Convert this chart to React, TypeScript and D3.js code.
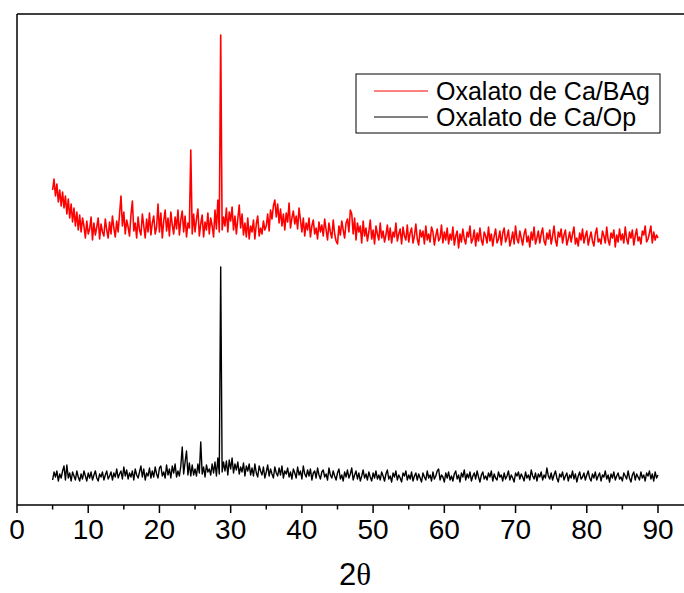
import React from "react";
import * as d3 from "d3";

// Diffraction patterns, sampled every 0.2° from 5° to 90° (2θ), stacked with an offset.
const twoThetaStart = 5;
const twoThetaStep = 0.2;

// Oxalato de Ca/BAg (offset trace)
const bagIntensity = [
  312, 323, 306, 318, 300, 312, 296, 310, 294, 306,
  288, 303, 284, 298, 280, 294, 276, 290, 272, 287,
  270, 284, 276, 264, 281, 268, 273, 285, 262, 279,
  267, 275, 284, 263, 278, 270, 266, 283, 272, 264,
  280, 268, 286, 274, 265, 281, 270, 288, 306, 276,
  290, 268, 282, 275, 266, 287, 301, 271, 279, 264,
  285, 272, 267, 288, 276, 264, 283, 270, 289, 267,
  279, 286, 268, 275, 298, 270, 289, 264, 281, 292,
  271, 284, 266, 290, 277, 268, 285, 273, 292, 267,
  282, 291, 270, 286, 265, 279, 274, 352, 268, 288,
  270, 283, 293, 266, 278, 287, 265, 280, 272, 289,
  268, 284, 276, 265, 292, 273, 302, 270, 467, 272,
  285, 276, 294, 270, 290, 281, 295, 272, 286, 268,
  283, 297, 274, 288, 267, 279, 265, 284, 263, 276,
  270, 282, 263, 278, 286, 266, 274, 268, 281, 272,
  276, 288, 271, 292, 283, 296, 302, 285, 298, 279,
  293, 276, 288, 272, 289, 280, 299, 274, 284, 291,
  278, 286, 273, 294, 282, 270, 284, 266, 279, 272,
  284, 265, 276, 282, 268, 274, 263, 280, 270, 277,
  266, 283, 272, 262, 279, 270, 264, 282, 268, 261,
  258, 276, 267, 281, 272, 264, 279, 283, 270, 292,
  288, 268, 284, 262, 279, 270, 276, 259, 281, 266,
  274, 261, 270, 282, 263, 272, 258, 276, 268, 262,
  279, 264, 271, 260, 267, 277, 262, 274, 259, 270,
  265, 279, 261, 268, 273, 258, 275, 266, 262, 277,
  260, 269, 274, 259, 266, 278, 263, 257, 272, 265,
  271, 258, 276, 262, 268, 260, 275, 270, 257, 266,
  273, 261, 264, 277, 259, 270, 262, 274, 258, 268,
  262, 275, 257, 266, 271, 254, 268, 260, 273, 263,
  258, 270, 265, 276, 259, 263, 272, 256, 269, 261,
  274, 262, 257, 270, 266, 259, 275, 261, 268, 256,
  266, 273, 259, 263, 271, 257, 269, 274, 260, 265,
  272, 256, 262, 270, 258, 276, 263, 259, 271, 264,
  257, 268, 273, 260, 266, 255, 270, 262, 275, 258,
  264, 271, 259, 268, 274, 261, 257, 269, 263, 272,
  258, 266, 276, 262, 256, 270, 265, 273, 259, 267,
  272, 257, 263, 270, 260, 268, 275, 258, 264, 256,
  269, 262, 273, 259, 266, 271, 257, 264, 270, 261,
  256, 268, 274, 260, 263, 258, 271, 266, 259, 275,
  262, 257, 269, 264, 272, 255, 267, 260, 273, 262,
  268, 259, 275, 263, 258, 270, 264, 272, 257, 266,
  273, 261, 265, 258, 271, 267, 276, 260, 263, 269,
  276, 259, 270, 262, 267, 264,
];

// Oxalato de Ca/Op
const opIntensity = [
  22, 30, 25, 31, 21, 28, 24, 31, 36, 22,
  37, 24, 29, 21, 30, 26, 22, 31, 25, 21,
  28, 23, 31, 26, 21, 29, 24, 30, 22, 27,
  31, 24, 21, 28, 25, 30, 22, 27, 31, 23,
  26, 30, 22, 29, 25, 33, 24, 28, 31, 23,
  35, 26, 32, 23, 29, 25, 31, 22, 33, 27,
  24, 30, 36, 25, 33, 22, 29, 26, 34, 24,
  31, 25, 35, 28, 24, 34, 36, 26, 30, 24,
  37, 27, 33, 24, 36, 29, 38, 25, 31, 26,
  36, 55, 28, 40, 51, 27, 39, 26, 37, 27,
  33, 26, 38, 29, 60, 28, 35, 25, 37, 30,
  33, 27, 38, 29, 40, 26, 44, 28, 235, 30,
  40, 31, 41, 27, 42, 33, 44, 29, 38, 32,
  40, 28, 35, 30, 39, 26, 36, 31, 38, 27,
  34, 26, 38, 29, 25, 36, 31, 27, 35, 24,
  30, 37, 26, 33, 28, 24, 35, 29, 26, 34,
  27, 36, 24, 31, 28, 34, 25, 30, 23, 33,
  29, 24, 35, 27, 31, 23, 36, 28, 25, 32,
  26, 33, 22, 29, 31, 24, 34, 27, 23, 30,
  32, 25, 28, 22, 34, 27, 24, 31, 26, 22,
  29, 33, 23, 27, 21, 30, 25, 32, 24, 28,
  34, 22, 27, 31, 23, 29, 21, 26, 32, 24,
  28, 22, 30, 25, 21, 29, 24, 31, 23, 27,
  22, 30, 26, 21, 28, 32, 23, 26, 20, 29,
  25, 31, 22, 27, 24, 20, 29, 26, 31, 22,
  27, 23, 30, 21, 26, 29, 22, 28, 24, 20,
  29, 25, 22, 31, 24, 27, 21, 30, 23, 26,
  31, 33, 22, 27, 25, 20, 29, 24, 30, 22,
  26, 21, 28, 31, 23, 27, 20, 29, 25, 32,
  22, 28, 24, 30, 21, 26, 29, 23, 31, 25,
  20, 27, 30, 23, 26, 22, 29, 25, 31, 21,
  28, 24, 22, 30, 25, 27, 21, 29, 23, 26,
  31, 22, 27, 24, 20, 29, 26, 30, 23, 28,
  25, 21, 30, 24, 27, 22, 32, 26, 23, 29,
  21, 28, 25, 30, 22, 27, 24, 34, 26, 23,
  29, 22, 27, 31, 24, 20, 28, 25, 30, 22,
  26, 29, 21, 27, 24, 31, 23, 28, 20, 26,
  30, 23, 25, 29, 22, 27, 31, 24, 21, 28,
  24, 30, 22, 26, 29, 21, 27, 25, 31, 23,
  27, 20, 28, 24, 30, 22, 26, 29, 23, 25,
  21, 29, 26, 23, 31, 24, 20, 27, 30, 22,
  28, 25, 22, 30, 24, 27, 21, 29, 26, 31,
  23, 28, 21, 30, 24, 27,
];

const seriesNames = ["Oxalato de Ca/BAg", "Oxalato de Ca/Op"];
const seriesColors = ["#ff0000", "#000000"];
const majorTicks = [0, 10, 20, 30, 40, 50, 60, 70, 80, 90];
const minorTicks = [5, 15, 25, 35, 45, 55, 65, 75, 85];

const W = 684;
const H = 593;
const left = 17;
const top = 14;
const axisY = 505;

const x = d3.scaleLinear().domain([0, 90]).range([left, 658]);
const y = d3.scaleLinear().domain([-3, 488]).range([axisY, top]);

const toPoints = (vals: number[]) =>
  vals.map((v, i) => [twoThetaStart + i * twoThetaStep, v] as [number, number]);

const line = d3
  .line<[number, number]>()
  .x((d) => x(d[0]))
  .y((d) => y(d[1]));

export default function App() {
  const traces = [bagIntensity, opIntensity];
  const font = "'Liberation Sans', Arial, sans-serif";
  return (
    <svg
      width={W}
      height={H}
      style={{ position: "absolute", left: 0, top: 0, background: "#fff" }}
    >
      <rect x={0} y={0} width={W} height={H} fill="#fff" />
      {traces.map((t, k) => (
        <path
          key={k}
          d={line(toPoints(t)) || ""}
          fill="none"
          stroke={seriesColors[k]}
          strokeWidth={k === 0 ? 1.6 : 1.4}
          strokeLinejoin="round"
        />
      ))}

      {/* frame */}
      <line x1={left} y1={top} x2={W} y2={top} stroke="#000" strokeWidth={1.5} />
      <line x1={left} y1={top} x2={left} y2={axisY} stroke="#000" strokeWidth={1.5} />
      <line x1={left} y1={axisY} x2={W} y2={axisY} stroke="#000" strokeWidth={1.5} />

      {majorTicks.map((t) => (
        <g key={"M" + t}>
          <line x1={x(t)} x2={x(t)} y1={axisY} y2={axisY + 8} stroke="#000" strokeWidth={1.5} />
          <text
            x={x(t)}
            y={539}
            textAnchor="middle"
            fontFamily={font}
            fontSize={28}
            fill="#000"
          >
            {t}
          </text>
        </g>
      ))}
      {minorTicks.map((t) => (
        <line key={"m" + t} x1={x(t)} x2={x(t)} y1={axisY} y2={axisY + 4.5} stroke="#000" strokeWidth={1.5} />
      ))}

      <text x={355} y={585} textAnchor="middle" fontFamily={font} fontSize={31} fill="#000">
        2<tspan fontFamily="'Liberation Serif', 'Times New Roman', serif">θ</tspan>
      </text>

      {/* legend */}
      <rect x={356} y={74} width={304} height={59} fill="#fff" stroke="#000" strokeWidth={1} />
      {seriesNames.map((n, k) => (
        <g key={n}>
          <line
            x1={374}
            x2={428}
            y1={91 + k * 26}
            y2={91 + k * 26}
            stroke={seriesColors[k]}
            strokeWidth={1}
          />
          <text x={436} y={100 + k * 26} fontFamily={font} fontSize={25} fill="#000">
            {n}
          </text>
        </g>
      ))}
    </svg>
  );
}
